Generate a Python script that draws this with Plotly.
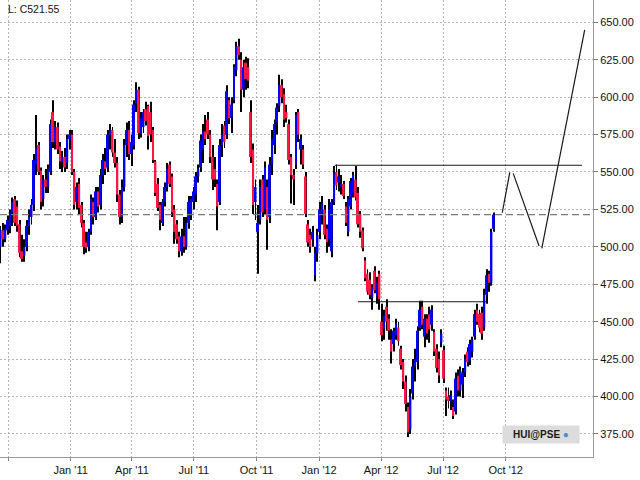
import pandas as pd
import plotly.graph_objects as go

# -----------------------------
# HUI@PSE, half-week candles
# -----------------------------

START = "2010-09-20"
STEP = "84h"

OPEN = [
    500, 511, 505, 511, 514, 523, 532, 527, 515, 497,
    494, 500, 514, 520, 528, 555, 568, 551, 532, 545,
    540, 550, 590, 570, 580, 567, 557, 560, 556, 572,
    575, 550, 530, 542, 528, 516, 503, 500, 510, 530,
    520, 537, 528, 548, 557, 553, 575, 578, 563, 556,
    535, 520, 540, 568, 578, 562, 568, 596, 605, 576,
    580, 592, 594, 590, 578, 557, 542, 528, 516, 530,
    540, 555, 547, 525, 515, 507, 497, 507, 500, 516,
    522, 530, 535, 547, 553, 565, 577, 585, 575, 560,
    552, 542, 530, 568, 581, 575, 598, 586, 598, 618,
    634, 625, 605, 623, 620, 590, 565, 530, 510, 518,
    545, 525, 540, 520, 555, 568, 583, 594, 608, 602,
    590, 582, 560, 548, 555, 590, 565, 565, 547, 515,
    508, 505, 481, 496, 510, 522, 525, 512, 505, 497,
    530, 550, 543, 540, 542, 527, 510, 527, 535, 545,
    536, 522, 511, 491, 482, 478, 466, 484, 467, 482,
    450, 445, 460, 452, 438, 435, 441, 446, 432, 423,
    410, 393, 378, 402, 420, 423, 446, 460, 440, 452,
    455, 448, 443, 432, 425, 436, 431, 404, 400, 397,
    393, 390, 414, 404, 408, 416, 430, 424, 430, 440,
    458, 455, 456, 446, 468, 482, 476, 512,
]

HIGH = [
    514, 516, 515, 521, 525, 533, 534, 531, 518, 508,
    505, 518, 525, 532, 562, 588, 570, 553, 548, 552,
    555, 585, 598, 584, 583, 570, 564, 566, 575, 578,
    578, 552, 543, 546, 530, 518, 510, 512, 535, 533,
    540, 540, 552, 562, 566, 578, 582, 580, 572, 560,
    538, 545, 572, 583, 584, 575, 598, 610, 607, 590,
    592, 597, 595, 597, 580, 558, 546, 530, 532, 543,
    556, 557, 549, 528, 518, 510, 512, 520, 520, 534,
    534, 540, 550, 555, 575, 582, 588, 590, 578, 568,
    560, 545, 572, 582, 584, 608, 600, 600, 622, 637,
    639, 630, 625, 627, 626, 598, 569, 545, 528, 545,
    548, 557, 545, 560, 578, 585, 596, 615, 612, 606,
    595, 585, 562, 552, 590, 592, 575, 568, 550, 518,
    512, 514, 500, 512, 530, 534, 528, 515, 532, 532,
    554, 555, 552, 548, 544, 530, 534, 546, 550, 554,
    540, 524, 513, 493, 485, 483, 475, 487, 480, 484,
    462, 458, 465, 455, 445, 446, 452, 450, 434, 425,
    414, 396, 405, 425, 432, 447, 464, 464, 455, 455,
    460, 461, 445, 435, 430, 445, 434, 406, 406, 404,
    398, 416, 418, 420, 419, 428, 433, 438, 440, 458,
    462, 458, 460, 472, 485, 484, 512, 523,
]

LOW = [
    489, 500, 503, 508, 509, 514, 514, 510, 493, 490,
    490, 497, 508, 515, 524, 548, 548, 525, 527, 536,
    536, 548, 566, 565, 562, 552, 550, 550, 552, 565,
    548, 525, 525, 522, 513, 495, 496, 497, 508, 515,
    518, 523, 525, 542, 548, 550, 565, 560, 553, 530,
    515, 516, 537, 560, 558, 554, 565, 590, 572, 573,
    576, 581, 565, 570, 556, 534, 524, 511, 514, 527,
    537, 540, 520, 502, 502, 493, 494, 496, 498, 512,
    518, 525, 530, 543, 550, 556, 568, 572, 556, 538,
    540, 511, 528, 560, 566, 572, 582, 576, 596, 614,
    625, 590, 600, 605, 606, 556, 522, 518, 482, 515,
    520, 522, 498, 516, 548, 562, 575, 590, 596, 580,
    583, 555, 529, 528, 552, 570, 555, 552, 520, 500,
    496, 500, 477, 490, 505, 515, 505, 496, 500, 493,
    528, 538, 537, 535, 532, 514, 507, 525, 533, 531,
    513, 506, 497, 477, 468, 465, 458, 469, 462, 458,
    437, 438, 444, 438, 422, 430, 438, 434, 418, 405,
    390, 373, 375, 398, 410, 418, 444, 445, 433, 438,
    436, 444, 427, 416, 409, 433, 409, 387, 392, 391,
    385, 388, 400, 400, 399, 413, 420, 421, 426, 438,
    448, 443, 438, 444, 462, 470, 474, 510,
]

CLOSE = [
    511, 505, 512, 518, 523, 530, 516, 514, 496, 492,
    500, 514, 520, 528, 558, 566, 550, 530, 545, 540,
    552, 582, 570, 580, 565, 557, 560, 553, 572, 575,
    550, 528, 540, 526, 516, 500, 499, 510, 532, 520,
    537, 527, 548, 558, 552, 575, 578, 563, 556, 535,
    520, 540, 568, 578, 562, 570, 595, 605, 576, 586,
    590, 584, 574, 575, 558, 536, 526, 518, 530, 540,
    552, 542, 523, 510, 505, 497, 507, 500, 516, 530,
    532, 537, 547, 552, 571, 577, 572, 575, 560, 545,
    545, 527, 568, 575, 570, 604, 586, 595, 620, 634,
    628, 605, 620, 612, 611, 560, 528, 540, 516, 540,
    523, 553, 518, 555, 572, 582, 593, 608, 600, 585,
    586, 558, 548, 545, 588, 575, 572, 555, 522, 503,
    500, 510, 496, 508, 525, 529, 508, 503, 525, 530,
    549, 541, 547, 542, 534, 516, 532, 544, 548, 533,
    515, 510, 499, 479, 470, 468, 473, 471, 476, 465,
    441, 454, 450, 444, 430, 444, 449, 437, 421, 410,
    395, 376, 400, 420, 425, 444, 458, 448, 452, 442,
    445, 458, 430, 419, 414, 442, 412, 398, 397, 401,
    387, 412, 404, 417, 416, 425, 423, 435, 438, 455,
    450, 446, 442, 468, 481, 476, 510, 521.55,
]

# hand drawn resistance / support lines and the projected path
RESIST_X = ["2012-01-24", "2013-01-21"]
RESIST_Y = [554.5, 554.5]
SUPPORT_X = ["2012-02-27", "2012-09-05"]
SUPPORT_Y = [463.3, 463.3]
PATH_X = ["2012-09-26", "2012-10-07", None,
          "2012-10-12", "2012-11-19", None,
          "2012-11-23", "2013-01-25"]
PATH_Y = [522.8, 549.8, None, 549.1, 500.6, None, 499.0, 644.9]

TICK_DATES = ["2010-10-01", "2011-01-01", "2011-04-01", "2011-07-01",
              "2011-10-01", "2012-01-01", "2012-04-01", "2012-07-01",
              "2012-10-01"]
TICK_TEXT = ["", "Jan '11", "Apr '11", "Jul '11", "Oct '11",
             "Jan '12", "Apr '12", "Jul '12", "Oct '12"]
PRICE_TICKS = list(range(375, 651, 25))

UP = "#0000ff"
DOWN = "#ff1744"
FONT = "Liberation Sans, Arial, sans-serif"
DAY_MS = 86400000

df = pd.DataFrame({"open": OPEN, "high": HIGH, "low": LOW, "close": CLOSE})
df["date"] = pd.date_range(START, periods=len(df), freq=STEP)
df["color"] = [UP if c >= o else DOWN for o, c in zip(df["open"], df["close"])]

fig = go.Figure()

# wicks first so the bodies sit on top
fig.add_trace(go.Bar(
    x=df["date"],
    y=df["high"] - df["low"],
    base=df["low"],
    width=1.4 * DAY_MS,
    marker=dict(color="#000000", line=dict(width=0)),
    hoverinfo="skip",
))

fig.add_trace(go.Bar(
    x=df["date"],
    y=df["close"] - df["open"],
    base=df["open"],
    width=2.9 * DAY_MS,
    marker=dict(color=df["color"], line=dict(width=0)),
    hoverinfo="skip",
))

for xs, ys in [(RESIST_X, RESIST_Y), (SUPPORT_X, SUPPORT_Y), (PATH_X, PATH_Y)]:
    fig.add_trace(go.Scatter(
        x=xs, y=ys, mode="lines",
        line=dict(color="#1a1a1a", width=1.2),
        connectgaps=False, hoverinfo="skip",
    ))

# last price line
fig.add_shape(
    type="line", xref="paper", x0=0, x1=1, yref="y",
    y0=CLOSE[-1], y1=CLOSE[-1],
    line=dict(color="#7a7a7a", width=1.3, dash="7px,4px"),
)

fig.add_annotation(
    text=f"L: C{CLOSE[-1]:.2f}",
    xref="paper", yref="paper", x=0.01, y=0.981,
    xanchor="left", yanchor="middle", showarrow=False,
    font=dict(family=FONT, size=10.5, color="#111111"),
)

fig.add_annotation(
    text="<b>HUI@PSE</b> <span style='color:#4d8fd6'>●</span>",
    xref="paper", yref="paper", x=0.912, y=0.049,
    xanchor="center", yanchor="middle", showarrow=False,
    width=76, height=17, borderpad=0, bgcolor="#dcdcdc",
    font=dict(family=FONT, size=10, color="#1a1a1a"),
)

fig.update_layout(
    width=640,
    height=480,
    margin=dict(l=0, r=47, t=0, b=23, autoexpand=False),
    plot_bgcolor="white",
    paper_bgcolor="white",
    showlegend=False,
    barmode="overlay",
    font=dict(family=FONT, size=11, color="#111111"),
)

fig.update_xaxes(
    type="date",
    range=["2010-09-19 06:00", "2013-02-06 05:00"],
    tickvals=TICK_DATES,
    ticktext=TICK_TEXT,
    showgrid=True, gridcolor="#b4b4b4", griddash="2px,2px", gridwidth=1,
    showline=True, linecolor="#9a9a9a", linewidth=1, mirror=True,
    ticks="outside", ticklen=3, tickcolor="#808080",
    zeroline=False, automargin=False,
    rangeslider=dict(visible=False),
    tickfont=dict(family=FONT, size=11, color="#111111"),
)

fig.update_yaxes(
    side="right",
    range=[359.6, 664.9],
    tickvals=PRICE_TICKS,
    tickformat=".2f",
    showgrid=True, gridcolor="#b4b4b4", griddash="2px,2px", gridwidth=1,
    showline=True, linecolor="#9a9a9a", linewidth=1, mirror=True,
    ticks="outside", ticklen=4, tickcolor="#808080",
    zeroline=False, automargin=False,
    tickfont=dict(family=FONT, size=11, color="#111111"),
)

# the page body has a default 8px margin; drop it so the chart fills the window
fig.write_html(
    "out.html",
    config={"displayModeBar": False},
    post_script="document.body.style.margin = '0';",
)
